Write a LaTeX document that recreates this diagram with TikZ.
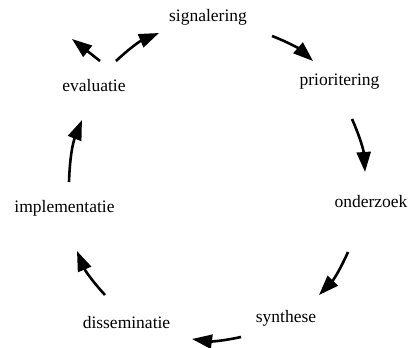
\documentclass[tikz,border=0pt]{standalone}
\usepackage{fontspec}
\setmainfont{Liberation Serif}
\usetikzlibrary{arrows.meta}
\begin{document}
\begin{tikzpicture}[x=1pt,y=1pt,
  lbl/.style={anchor=base,inner sep=0pt,font=\fontsize{17.5pt}{21pt}\selectfont},
  cyc/.style={line width=2.6pt,-{Triangle[length=20pt,width=14pt]},bend left=10},
  cycs/.style={line width=2.6pt,-{Triangle[length=20pt,width=14pt]}}]
\useasboundingbox (0,0) rectangle (411,347);
\node[lbl] (sig) at (208,325) {signalering};
\node[lbl] (pri) at (339.5,261) {prioritering};
\node[lbl] (ond) at (371,139) {onderzoek};
\node[lbl] (syn) at (286,24) {synthese};
\node[lbl] (dis) at (126.5,19) {disseminatie};
\node[lbl] (imp) at (64.5,134) {implementatie};
\node[lbl] (eva) at (94,255) {evaluatie};
% connector end points
\coordinate (a1) at (272,311); \coordinate (b1) at (313,286);
\coordinate (a2) at (352,228); \coordinate (b2) at (365,175);
\coordinate (a3) at (348,95);  \coordinate (b3) at (319,52);
\coordinate (a4) at (241,10);  \coordinate (b4) at (192,8);
\coordinate (a5) at (105,52);  \coordinate (b5) at (77,96);
\coordinate (a6) at (69,165);  \coordinate (b6) at (82,227);
\coordinate (a7) at (116,286); \coordinate (b7) at (159,314);
\coordinate (a8) at (100,286); \coordinate (b8) at (72,308);
\draw[cyc] (a1) to (b1);
\draw[cyc] (a2) to (b2);
\draw[cyc] (a3) to (b3);
\draw[cyc] (a4) to (b4);
\draw[cyc] (a5) to (b5);
\draw[cyc] (a6) to (b6);
\draw[cyc] (a7) to (b7);
\draw[cycs] (a8) -- (b8);
\end{tikzpicture}
\end{document}
